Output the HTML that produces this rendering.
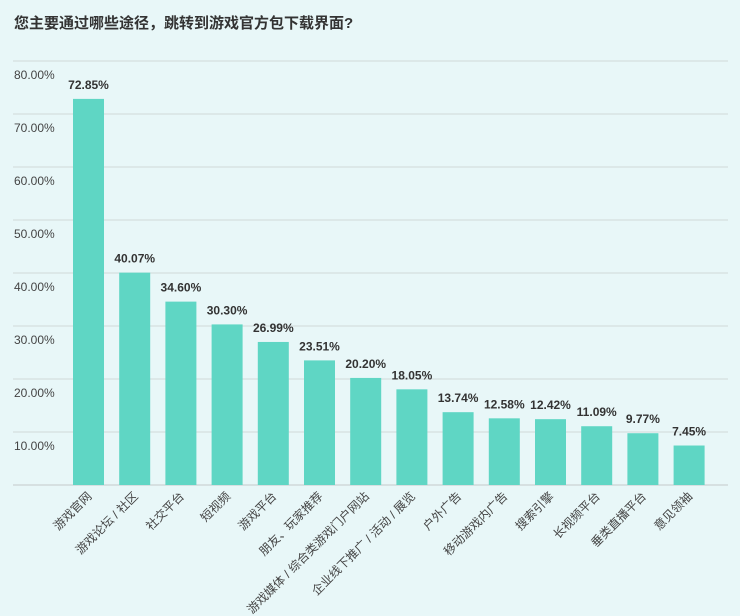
<!DOCTYPE html>
<html><head><meta charset="utf-8"><style>
body{margin:0;width:740px;height:616px;background:#e8f7f8;font-family:"Liberation Sans","Noto Sans CJK SC",sans-serif;overflow:hidden}
svg{display:block}
</style></head><body>
<svg id="chart" width="740" height="616" xmlns="http://www.w3.org/2000/svg">
<text x="14" y="28" font-size="15" font-weight="bold" fill="#333" font-family="Liberation Sans, Noto Sans CJK SC, sans-serif">您主要通过哪些途径，跳转到游戏官方包下载界面?</text>
<g id="grid"></g><g id="bars"></g><g id="labels"></g>
</svg>
<script>
const categories=["游戏官网","游戏论坛 / 社区","社交平台","短视频","游戏平台","朋友、玩家推荐","游戏媒体 / 综合类游戏门户网站","企业线下推广 / 活动 / 展览","户外广告","移动游戏内广告","搜索引擎","长视频平台","垂类直播平台","意见领袖"];
const values=[72.85,40.07,34.60,30.30,26.99,23.51,20.20,18.05,13.74,12.58,12.42,11.09,9.77,7.45];
const ticks=[10,20,30,40,50,60,70,80];
const NS="http://www.w3.org/2000/svg";
const y0=485,pxPer=5.3,x0=73,step=46.2,bw=31;
const y=v=>y0-v*pxPer;
const xb=i=>x0+i*step;
function mk(t,a,p){const e=document.createElementNS(NS,t);for(const k in a)e.setAttribute(k,a[k]);p.appendChild(e);return e;}
const g=document.getElementById('grid'),b=document.getElementById('bars'),l=document.getElementById('labels');
const base=mk('line',{x1:13,x2:728,y1:y0,y2:y0,stroke:'#cfd8d9','stroke-width':1.5},g);


ticks.forEach(t=>{
 const ln=mk('line',{x1:13,x2:728,y1:y(t),y2:y(t),stroke:'#cfd8d9','stroke-width':1},g);
 
 
 const tx=mk('text',{x:14,y:y(t)+18,'font-size':12,fill:'#444'},g);
 tx.textContent=t.toFixed(2)+'%';
 
 
});
values.forEach((v,i)=>{
 const r=mk('rect',{x:xb(i),y:y(v),width:bw,height:v*pxPer,fill:'#5fd6c4'},b);
 
 
 const vt=mk('text',{x:xb(i)+bw/2,y:y(v)-10,'font-size':12,'font-weight':'bold',fill:'#333','text-anchor':'middle'},l);
 vt.textContent=v.toFixed(2)+'%';
 
 
 const cx=xb(i)+bw/2+4,cy=y0+12;
 const ct=mk('text',{x:cx,y:cy,'font-size':12,fill:'#444','text-anchor':'end',transform:`rotate(-45 ${cx} ${cy})`},l);
 ct.textContent=categories[i];
 
 
});
</script>
</body></html>
